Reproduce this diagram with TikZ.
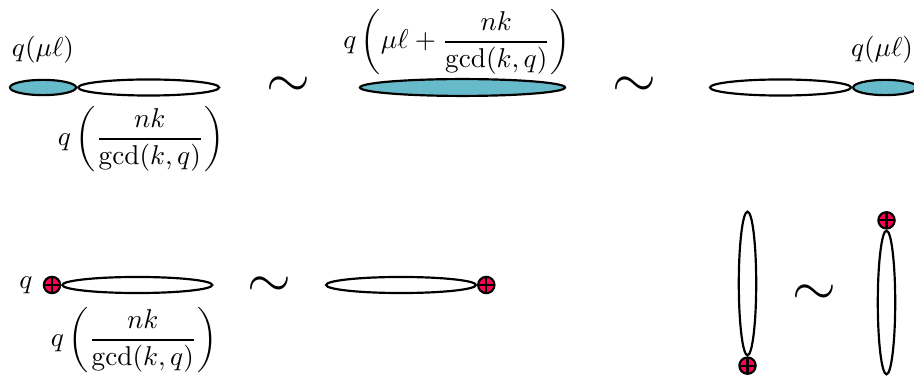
\documentclass[tikz,border=0pt]{standalone}
\usepackage{amsmath}
\usetikzlibrary{shapes.geometric, positioning}

\definecolor{loopteal}{RGB}{102,186,201}
\definecolor{plusred}{RGB}{255,0,85}

\tikzset{
    loopfill/.style={ellipse, draw, thick, fill=loopteal, inner sep=0pt, minimum height=5.6pt},
    loopopen/.style={ellipse, draw, thick, fill=white, inner sep=0pt, minimum height=5.9pt},
    vloop/.style={ellipse, draw, thick, fill=white, inner sep=0pt, minimum width=6.4pt, minimum height=52.8pt},
    plusdot/.style={circle, draw, thick, fill=plusred, inner sep=0pt, minimum size=6pt,
        path picture={\draw[thick] (path picture bounding box.north) -- (path picture bounding box.south)
            (path picture bounding box.west) -- (path picture bounding box.east);}},
    tilde/.style={font=\fontsize{22}{26}\selectfont}
}

\begin{document}
\begin{tikzpicture}[x=0.3676pt, y=-0.3676pt]
    \useasboundingbox (0,0) rectangle (914,381);

    % top row
    \node (lfill) [loopfill, minimum width=24.3pt] at (43,87.5) {};
    \node (lopen) [loopopen, minimum width=51.8pt, right=0pt of lfill] {};
    \node (lup) at (43,50) {$q(\mu\ell)$};
    \node (ldown) at (141,139) {$\displaystyle q\left(\frac{nk}{\gcd(k,q)}\right)$};

    \node (sim1) [tilde] at (288,87) {$\sim$};

    \node (mfill) [loopfill, minimum width=75.4pt, minimum height=6.2pt] at (462.5,87.5) {};
    \node (mup) [inner sep=0.5pt] at (457,42) {$\displaystyle q\left(\mu\ell+\frac{nk}{\gcd(k,q)}\right)$};

    \node (sim2) [tilde] at (634,87) {$\sim$};

    \node (ropen) [loopopen, minimum width=51.8pt] at (780.5,87.5) {};
    \node (rfill) [loopfill, minimum width=23.6pt, right=0pt of ropen] {};
    \node (rup) at (882,50) {$q(\mu\ell)$};

    % bottom row
    \node (bdot) [plusdot] at (52,285) {};
    \node (bopen) [loopopen, minimum width=55.1pt, right=0pt of bdot] {};
    \node (bq) at (26,285) {$q$};
    \node (bdown) at (134,340) {$\displaystyle q\left(\frac{nk}{\gcd(k,q)}\right)$};

    \node (sim3) [tilde] at (269,287) {$\sim$};

    \node (bopen2) [loopopen, minimum width=55.1pt] at (401,285) {};
    \node (bdot2) [plusdot, right=0pt of bopen2] {};

    \node (vleft) [vloop] at (747.5,283.5) {};
    \node (vdot) [plusdot, below=0pt of vleft] {};

    \node (sim4) [tilde] at (814,295) {$\sim$};

    \node (vright) [vloop] at (886.5,302.5) {};
    \node (vdot2) [plusdot, above=0pt of vright] {};
\end{tikzpicture}
\end{document}
